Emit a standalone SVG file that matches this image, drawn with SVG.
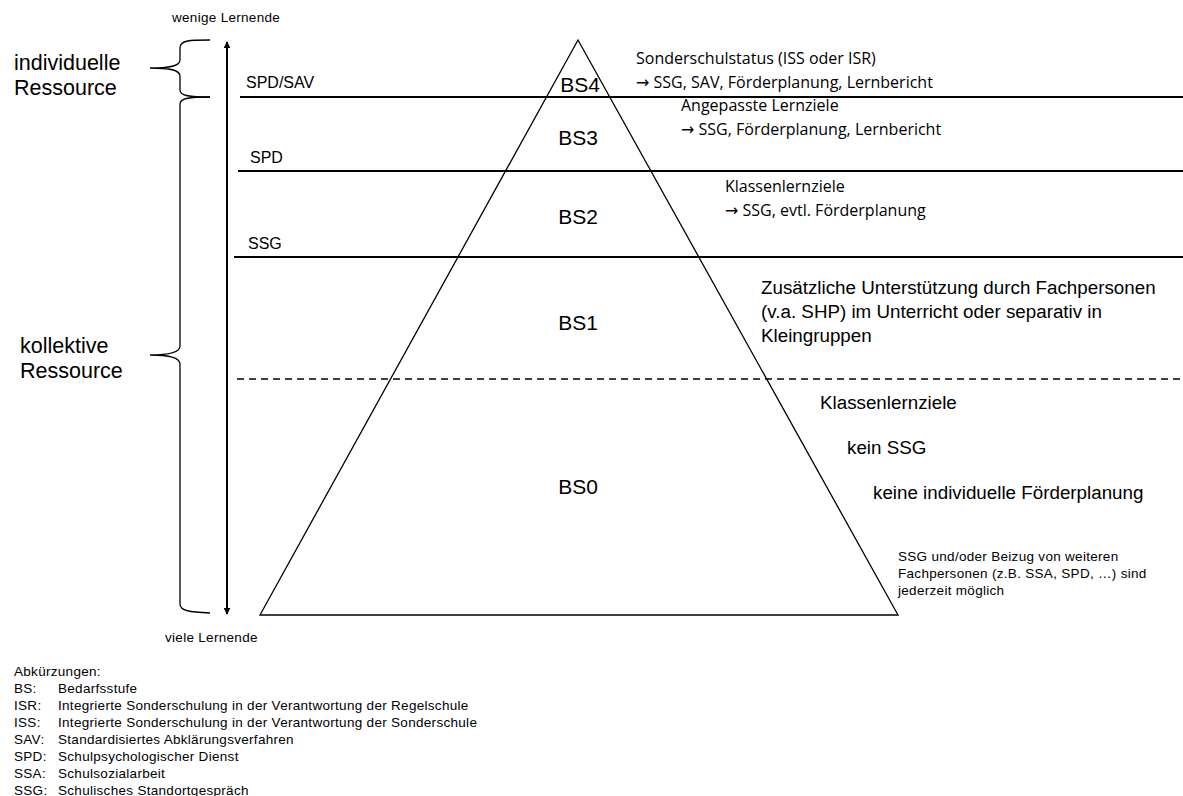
<svg xmlns="http://www.w3.org/2000/svg" width="1183" height="796" viewBox="0 0 1183 796">
<style>
.a{font-family:"Liberation Sans",Arial,sans-serif;fill:#000}
.c{font-family:"Open Sans","Liberation Sans",sans-serif;fill:#000}
.ar{font-family:"DejaVu Sans",sans-serif}
.sm{font-size:13.5px;letter-spacing:0.3px}
.lg{font-size:21.5px}
.md{font-size:16px}
.bs{font-size:21px;text-anchor:middle}
.r{font-size:18.8px}
.cal{font-size:16px}
.ln{stroke:#000;stroke-width:2;fill:none}
.th{stroke:#000;stroke-width:1.3;fill:none}
</style>
<defs>
<marker id="ah" viewBox="0 0 10 10" refX="9" refY="5" markerWidth="7" markerHeight="7" markerUnits="userSpaceOnUse" orient="auto-start-reverse">
<path d="M0,0 L10,5 L0,10 z" fill="#000"/>
</marker>
</defs>
<rect width="1183" height="796" fill="#fff"/>
<g id="connectors">
<line class="ln" x1="227" y1="42" x2="227" y2="614" marker-start="url(#ah)" marker-end="url(#ah)"/>
<line class="ln" x1="240" y1="97" x2="1183" y2="97"/>
<line class="ln" x1="238" y1="171" x2="1183" y2="171"/>
<line class="ln" x1="234" y1="257" x2="1183" y2="257"/>
<line class="th" x1="237" y1="379" x2="1183" y2="379" stroke-dasharray="7,5"/>
<path class="th" d="M210,40 C190,40 180,40 180,48 L180,60 C180,66 170,68 150,68 C170,68 180,70 180,76 L180,90 C180,96 190,97 210,97"/>
<path class="th" d="M210,97 C190,97 180,98 180,104 L180,346 C180,352 170,355 150,355 C170,355 180,358 180,364 L180,604 C180,611 190,612 210,613"/>
</g>
<g id="pyramid">
<path class="th" d="M578,40 L260,615 L898,615 Z"/>
</g>
<g id="bs4"><text class="a bs" x="580" y="92">BS4</text></g>
<g id="bs3"><text class="a bs" x="578" y="145">BS3</text></g>
<g id="bs2"><text class="a bs" x="578" y="224">BS2</text></g>
<g id="bs1"><text class="a bs" x="578" y="330">BS1</text></g>
<g id="bs0"><text class="a bs" x="578" y="494">BS0</text></g>
<g id="axis-labels">
<text class="a sm" x="172" y="22">wenige Lernende</text>
<text class="a sm" x="165" y="642">viele Lernende</text>
</g>
<g id="individuelle">
<text class="a lg" x="14" y="70">individuelle</text>
<text class="a lg" x="14" y="95">Ressource</text>
</g>
<g id="kollektive">
<text class="a lg" x="20" y="353">kollektive</text>
<text class="a lg" x="20" y="378">Ressource</text>
</g>
<g id="level-labels">
<text class="a md" x="246" y="88">SPD/SAV</text>
<text class="a md" x="250" y="163">SPD</text>
<text class="a md" x="248" y="249">SSG</text>
</g>
<g id="desc-bs4">
<text class="c cal" x="636" y="64">Sonderschulstatus (ISS oder ISR)</text>
<text class="c cal" x="636" y="88"><tspan class="ar">→</tspan> SSG, SAV, Förderplanung, Lernbericht</text>
</g>
<g id="desc-bs3">
<text class="c cal" x="681" y="111">Angepasste Lernziele</text>
<text class="c cal" x="681" y="135"><tspan class="ar">→</tspan> SSG, Förderplanung, Lernbericht</text>
</g>
<g id="desc-bs2">
<text class="c cal" x="725" y="192">Klassenlernziele</text>
<text class="c cal" x="725" y="216"><tspan class="ar">→</tspan> SSG, evtl. Förderplanung</text>
</g>
<g id="desc-bs1">
<text class="a r" x="761" y="294">Zusätzliche Unterstützung durch Fachpersonen</text>
<text class="a r" x="761" y="318">(v.a. SHP) im Unterricht oder separativ in</text>
<text class="a r" x="761" y="342">Kleingruppen</text>
</g>
<g id="desc-bs0">
<text class="a r" x="820" y="409">Klassenlernziele</text>
<text class="a r" x="847" y="454">kein SSG</text>
<text class="a r" x="873" y="499">keine individuelle Förderplanung</text>
</g>
<g id="note">
<text class="a sm" x="898" y="561">SSG und/oder Beizug von weiteren</text>
<text class="a sm" x="898" y="578">Fachpersonen (z.B. SSA, SPD, …) sind</text>
<text class="a sm" x="898" y="595">jederzeit möglich</text>
</g>
<g id="legend" class="a sm">
<text x="14" y="676">Abkürzungen:</text>
<text x="14" y="693">BS:</text><text x="58" y="693">Bedarfsstufe</text>
<text x="14" y="710">ISR:</text><text x="58" y="710">Integrierte Sonderschulung in der Verantwortung der Regelschule</text>
<text x="14" y="727">ISS:</text><text x="58" y="727">Integrierte Sonderschulung in der Verantwortung der Sonderschule</text>
<text x="14" y="744">SAV:</text><text x="58" y="744">Standardisiertes Abklärungsverfahren</text>
<text x="14" y="761">SPD:</text><text x="58" y="761">Schulpsychologischer Dienst</text>
<text x="14" y="778">SSA:</text><text x="58" y="778">Schulsozialarbeit</text>
<text x="14" y="795">SSG:</text><text x="58" y="795">Schulisches Standortgespräch</text>
</g>
</svg>
